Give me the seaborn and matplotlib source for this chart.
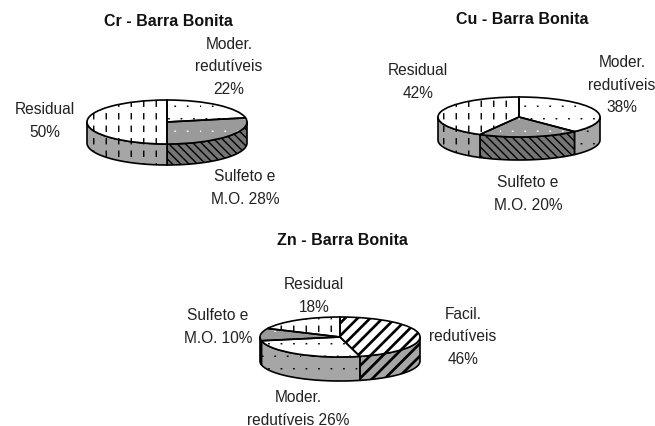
import numpy as np
import matplotlib
matplotlib.use('Agg')
import matplotlib.pyplot as plt
from matplotlib import hatch as mhatch
from matplotlib.path import Path
import seaborn as sns

W, H = 655, 427

# ============================================================
# Data
# ============================================================
titles = ['Cr - Barra Bonita', 'Cu - Barra Bonita', 'Zn - Barra Bonita']

cr_fractions = ['Moder', 'Sulfeto', 'Residual']
cr_values = [22, 28, 50]
cr_labels = ['Moder.\nredutíveis\n22%', 'Sulfeto e\nM.O. 28%', 'Residual\n50%']

cu_fractions = ['Moder', 'Sulfeto', 'Residual']
cu_values = [38, 20, 42]
cu_labels = ['Moder.\nredutíveis\n38%', 'Sulfeto e\nM.O. 20%', 'Residual\n42%']

zn_fractions = ['Facil', 'Moder', 'Sulfeto', 'Residual']
zn_values = [46, 26, 10, 18]
zn_labels = ['Facil.\nredutíveis\n46%', 'Moder.\nredutíveis 26%', 'Sulfeto e\nM.O. 10%', 'Residual\n18%']


# ============================================================
# Hatches: dashed verticals, fine dots and thick diagonals like the old Excel fills
# ============================================================
class DashedVertical(mhatch.HatchPatternBase):
    n = 8
    dash = 0.05

    def __init__(self, hatch, density):
        self.num_vertices = 2 * self.n ** 2 if '|' in (hatch or '') else 0

    def set_vertices_and_codes(self, vertices, codes):
        g = (np.arange(self.n) + 0.5) / self.n
        xx, yy = np.meshgrid(g, g)
        vertices[0::2, 0] = xx.ravel()
        vertices[0::2, 1] = yy.ravel()
        vertices[1::2, 0] = xx.ravel()
        vertices[1::2, 1] = yy.ravel() + self.dash
        codes[0::2] = Path.MOVETO
        codes[1::2] = Path.LINETO


class FineDots(mhatch.HatchPatternBase):
    n = 8

    def __init__(self, hatch, density):
        self.num_vertices = 2 * self.n ** 2 if '.' in (hatch or '') else 0

    def set_vertices_and_codes(self, vertices, codes):
        g = (np.arange(self.n) + 0.5) / self.n
        xx, yy = np.meshgrid(g, g)
        xx = xx + (np.arange(self.n) % 2)[:, None] * 0.5 / self.n
        xx = xx % 1
        vertices[0::2, 0] = xx.ravel()
        vertices[0::2, 1] = yy.ravel()
        vertices[1::2, 0] = xx.ravel() + 0.004
        vertices[1::2, 1] = yy.ravel()
        codes[0::2] = Path.MOVETO
        codes[1::2] = Path.LINETO


class ThickDiagonal(mhatch.HatchPatternBase):
    n = 8
    w = 0.018

    def __init__(self, hatch, density):
        self.num_vertices = 5 * 2 * self.n if '/' in (hatch or '') else 0

    def set_vertices_and_codes(self, vertices, codes):
        s = np.arange(-self.n, self.n) / self.n
        vertices[0::5, 0], vertices[0::5, 1] = s, 0
        vertices[1::5, 0], vertices[1::5, 1] = s + 1, 1
        vertices[2::5, 0], vertices[2::5, 1] = s + 1 + self.w, 1
        vertices[3::5, 0], vertices[3::5, 1] = s + self.w, 0
        vertices[4::5, 0], vertices[4::5, 1] = s, 0
        codes[0::5] = Path.MOVETO
        codes[1::5] = Path.LINETO
        codes[2::5] = Path.LINETO
        codes[3::5] = Path.LINETO
        codes[4::5] = Path.CLOSEPOLY


for i, h in enumerate(mhatch._hatch_types):
    if h is mhatch.VerticalHatch:
        mhatch._hatch_types[i] = DashedVertical
    elif h is mhatch.NorthEastHatch:
        mhatch._hatch_types[i] = ThickDiagonal
    elif h is mhatch.SmallFilledCircles:
        mhatch._hatch_types[i] = FineDots

sns.set_theme(style='white', font='Liberation Sans')
plt.rcParams['hatch.linewidth'] = 1.0

# (face, hatch, hatch colour) per fraction
TOP = {'Residual': ('white', '|', 'black'),
       'Moder': ('white', '.', 'black'),
       'Sulfeto': ('#9a9a9a', '.', 'white'),
       'Facil': ('white', '/', 'black')}
SIDE = {'Residual': ('#a6a6a6', '|'),
        'Moder': ('#a6a6a6', '.'),
        'Sulfeto': ('#757575', 'xxxx'),
        'Facil': ('#a6a6a6', '/')}

fig = plt.figure(figsize=(W / 100, H / 100), dpi=100, facecolor='white')


def pie3d(fractions, values, cx, cy, rx, ry, depth):
    """Flat pie squashed into an ellipse, with the front wall drawn below it."""
    d = depth / ry
    pad = 0.05
    rect = [(cx - rx * (1 + pad)) / W,
            1 - (cy + ry * (1 + pad) + depth) / H,
            2 * rx * (1 + pad) / W,
            (2 * ry * (1 + pad) + depth) / H]
    ax = fig.add_axes(rect)
    ax.patch.set_alpha(0)

    # front wall
    cum = np.cumsum([0] + values) / sum(values) * 2 * np.pi
    for name, a, b in zip(fractions, cum[:-1], cum[1:]):
        a, b = max(a, np.pi / 2), min(b, 3 * np.pi / 2)
        if b <= a:
            continue
        t = np.linspace(a, b, 80)
        face, ht = SIDE[name]
        ax.fill_between(np.sin(t), np.cos(t) - d, np.cos(t), facecolor=face,
                        hatch=ht, edgecolor='black', linewidth=1.2, zorder=1)

    # top face: filled layer first, black outlines after
    wedges, _ = ax.pie(values, startangle=90, counterclock=False, radius=1)
    for w, name in zip(wedges, fractions):
        face, ht, hc = TOP[name]
        w.set(facecolor=face, hatch=ht, edgecolor=hc, linewidth=0, zorder=2)
    ax.pie(values, startangle=90, counterclock=False, radius=1,
           wedgeprops=dict(facecolor='none', edgecolor='black', linewidth=1.2, zorder=3))

    ax.set_aspect('auto')
    ax.set_xlim(-1 - pad, 1 + pad)
    ax.set_ylim(-1 - pad - d, 1 + pad)
    ax.axis('off')
    return ax


def label(x, y, s, **kw):
    fig.text(x / W, 1 - y / H, s, ha='center', va='center', fontsize=11.2,
             color='#222222', linespacing=1.62, **kw)


# ============================================================
# Cr
# ============================================================
pie3d(cr_fractions, cr_values, 167, 123, 80, 22, 21)
fig.text(168 / W, 1 - 21 / H, titles[0], ha='center', va='center', fontsize=11.5,
         fontweight='bold', color='#111111')
label(229, 67, cr_labels[0])
label(245, 188, cr_labels[1])
label(45, 121, cr_labels[2])

# ============================================================
# Cu
# ============================================================
pie3d(cu_fractions, cu_values, 519, 118, 81, 20, 23)
fig.text(522 / W, 1 - 20 / H, titles[1], ha='center', va='center', fontsize=11.5,
         fontweight='bold', color='#111111')
label(622, 85, cu_labels[0])
label(528, 194, cu_labels[1])
label(418, 82, cu_labels[2])

# ============================================================
# Zn
# ============================================================
pie3d(zn_fractions, zn_values, 340, 338, 80, 20, 24)
fig.text(342 / W, 1 - 241 / H, titles[2], ha='center', va='center', fontsize=11.5,
         fontweight='bold', color='#111111')
label(463, 337, zn_labels[0])
label(298, 409, zn_labels[1])
label(218, 327, zn_labels[2])
label(314, 296, zn_labels[3])

fig.savefig('out.png', dpi=100, facecolor='white')
plt.close()
